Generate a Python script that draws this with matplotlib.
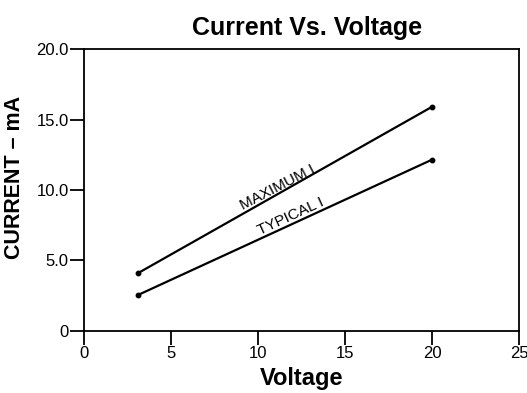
import numpy as np
import matplotlib
matplotlib.use("Agg")
import matplotlib.pyplot as plt

plt.rcParams['font.family'] = ['Liberation Sans', 'DejaVu Sans']

# Measured endpoints of the two current curves
voltage = [3.1, 20.0]
current_max = [4.1, 15.9]
current_typ = [2.55, 12.15]
series_labels = ["MAXIMUM I", "TYPICAL I"]

x_ticks = [0, 5, 10, 15, 20, 25]
y_ticks = [0, 5, 10, 15, 20]
y_tick_labels = ["0", "5.0", "10.0", "15.0", "20.0"]

fig = plt.figure(figsize=(5.27, 3.93), dpi=100)
ax = fig.add_axes([0.1594, 0.1578, 0.8254, 0.7175])

for yv in (current_max, current_typ):
    ax.plot(voltage, yv, color='black', lw=1.6, marker='o', ms=3.2,
            solid_capstyle='round')

ax.set_xlim(0, 25)
ax.set_ylim(0, 20)
ax.set_xticks(x_ticks)
ax.set_yticks(y_ticks)
ax.set_yticklabels(y_tick_labels)
ax.tick_params(direction='out', length=10, width=1.3, labelsize=12, pad=1)
for s in ax.spines.values():
    s.set_linewidth(1.3)

ax.set_title("Current Vs. Voltage", fontsize=18, fontweight='bold', pad=10, x=0.512)
ax.set_xlabel("Voltage", fontsize=17, fontweight='bold', labelpad=4)
ax.set_ylabel("CURRENT – mA", fontsize=15.5, fontweight='bold')
ax.yaxis.set_label_coords(-0.135, 0.545)

def screen_angle(xs, ys):
    p = ax.transData.transform(np.column_stack([xs, ys]))
    d = p[1] - p[0]
    return np.degrees(np.arctan2(d[1], d[0]))

ax.text(11.15, 10.15, series_labels[0], rotation=screen_angle(voltage, current_max) - 2,
        ha='center', va='center', fontsize=11, rotation_mode='anchor')
ax.text(11.9, 8.15, series_labels[1], rotation=screen_angle(voltage, current_typ),
        ha='center', va='center', fontsize=11, rotation_mode='anchor')

fig.savefig("out.png", dpi=100)
